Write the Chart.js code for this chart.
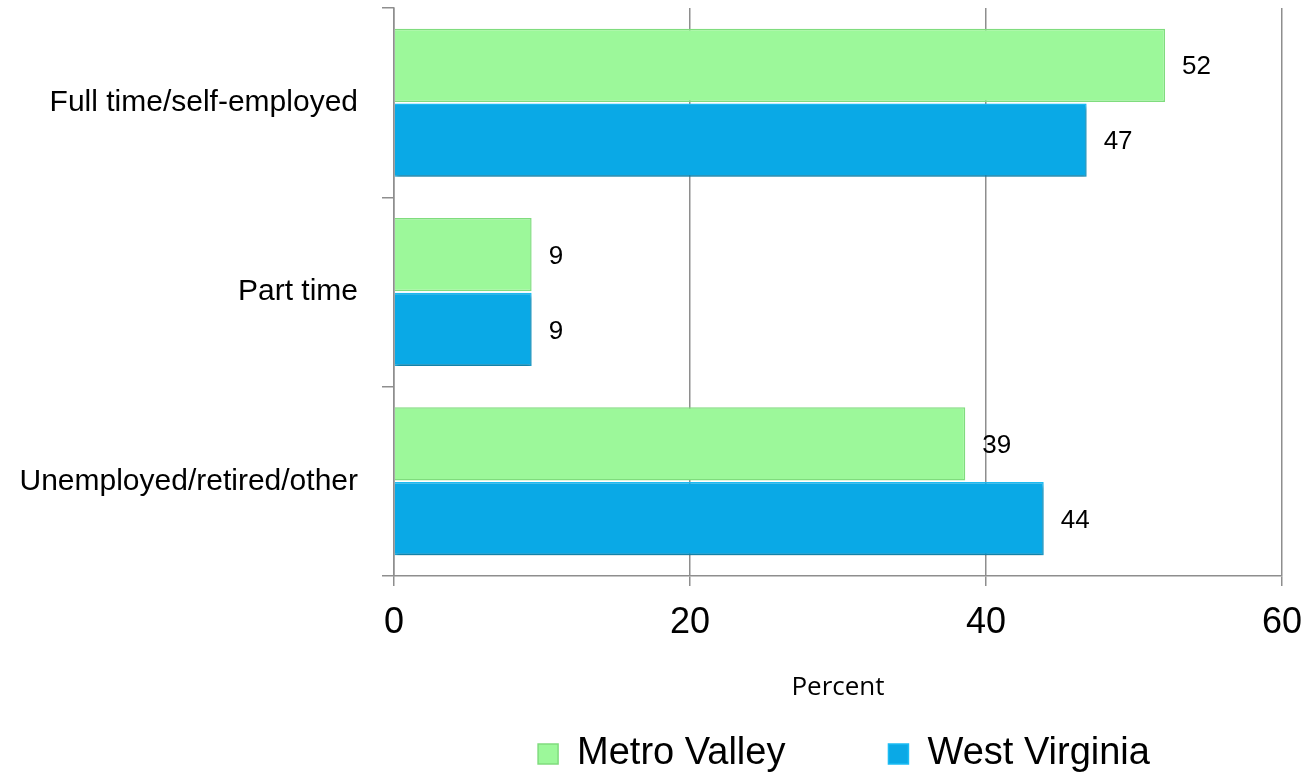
<!DOCTYPE html>
<html><head><meta charset="utf-8">
<script src="https://cdn.jsdelivr.net/npm/chart.js@4"></script>
<style>html,body{margin:0;padding:0;background:#fff}#wrap{width:1310px;height:772px;position:relative}</style>
</head><body><div id="wrap"><canvas id="c" width="1310" height="772"></canvas></div>
<script>
const categories = ['Full time/self-employed', 'Part time', 'Unemployed/retired/other'];
const seriesNames = ['Metro Valley', 'West Virginia'];
const metroValley = [52.1, 9.3, 38.6];
const westVirginia = [46.8, 9.3, 43.9];
const xTickValues = [0, 20, 40, 60];
const axisTitle = 'Percent';

const GRID = '#8e8e8e';
const LEG_PAD = 103;

const shadowPlugin = {
  id: 'barShadow',
  beforeDatasetDraw(chart, args) {
    if (args.index !== 1) return;
    const ctx = chart.ctx;
    ctx.save();
    ctx.shadowColor = 'rgba(0,0,0,0.35)';
    ctx.shadowBlur = 4;
    ctx.shadowOffsetX = 1;
    ctx.shadowOffsetY = 3;
  },
  afterDatasetDraw(chart, args) {
    if (args.index !== 1) return;
    chart.ctx.restore();
  }
};

const valueLabels = {
  id: 'valueLabels',
  afterDatasetsDraw(chart) {
    const ctx = chart.ctx;
    ctx.save();
    ctx.font = '26px "Liberation Sans", Arial, sans-serif';
    ctx.fillStyle = '#000';
    ctx.textAlign = 'left';
    ctx.textBaseline = 'middle';
    chart.data.datasets.forEach((ds, i) => {
      const meta = chart.getDatasetMeta(i);
      meta.data.forEach((bar, j) => {
        ctx.fillText(String(Math.round(ds.data[j])), bar.x + 17, bar.y + 2);
      });
    });
    ctx.restore();
  }
};

const legendShift = {
  id: 'legendShift',
  afterLayout(chart) {
    const lg = chart.legend;
    if (!lg) return;
    const dx = 203;
    lg.left += dx;
    lg.right += dx;
    lg.top = 735 - LEG_PAD;
    lg.bottom = chart.height;
  }
};

new Chart(document.getElementById('c'), {
  type: 'bar',
  data: {
    labels: categories,
    datasets: [
      {
        label: seriesNames[0],
        data: metroValley,
        backgroundColor: '#9cf89a',
        borderColor: '#80dc7e',
        borderWidth: 1.5,
        categoryPercentage: 0.79,
        barPercentage: 0.98
      },
      {
        label: seriesNames[1],
        data: westVirginia,
        backgroundColor: '#0aa9e6',
        borderColor: '#1bbcf4',
        borderWidth: 1.5,
        categoryPercentage: 0.79,
        barPercentage: 0.98
      }
    ]
  },
  options: {
    indexAxis: 'y',
    responsive: false,
    animation: false,
    devicePixelRatio: 1,
    layout: { padding: { top: 8, right: 28, bottom: 0, left: 0 } },
    scales: {
      x: {
        type: 'linear',
        min: 0,
        max: 60,
        afterBuildTicks(scale) { scale.ticks = xTickValues.map(v => ({ value: v })); },
        ticks: {
          color: '#000',
          font: { family: '"Liberation Sans", Arial, sans-serif', size: 36 },
          padding: 15,
          maxRotation: 0
        },
        grid: { color: GRID, lineWidth: 1.5, tickLength: 10, drawTicks: true },
        border: { color: GRID, width: 1.5 },
        title: {
          display: true,
          text: axisTitle,
          color: '#000',
          font: { family: '"Open Sans", sans-serif', size: 26 },
          padding: { top: 0, bottom: 9 }
        },
        afterFit(scale) {
          scale.height = 136;
          scale.paddingLeft = 0;
          scale.paddingRight = 0;
        }
      },
      y: {
        ticks: {
          color: '#000',
          font: { family: '"Liberation Sans", Arial, sans-serif', size: 30 },
          padding: 24
        },
        grid: { drawOnChartArea: false, tickLength: 12, color: GRID, lineWidth: 1.5, offset: true },
        border: { color: GRID, width: 1.5 },
        afterFit(scale) {
          scale.width = 394;
          scale.paddingTop = 0;
          scale.paddingBottom = 0;
        }
      }
    },
    plugins: {
      tooltip: { enabled: false },
      legend: {
        position: 'bottom',
        maxHeight: 60,
        labels: {
          color: '#000',
          font: { family: '"Liberation Sans", Arial, sans-serif', size: 38 },
          boxWidth: 20,
          boxHeight: 20,
          padding: LEG_PAD
        }
      }
    }
  },
  plugins: [shadowPlugin, valueLabels, legendShift]
});
</script>
</body></html>
